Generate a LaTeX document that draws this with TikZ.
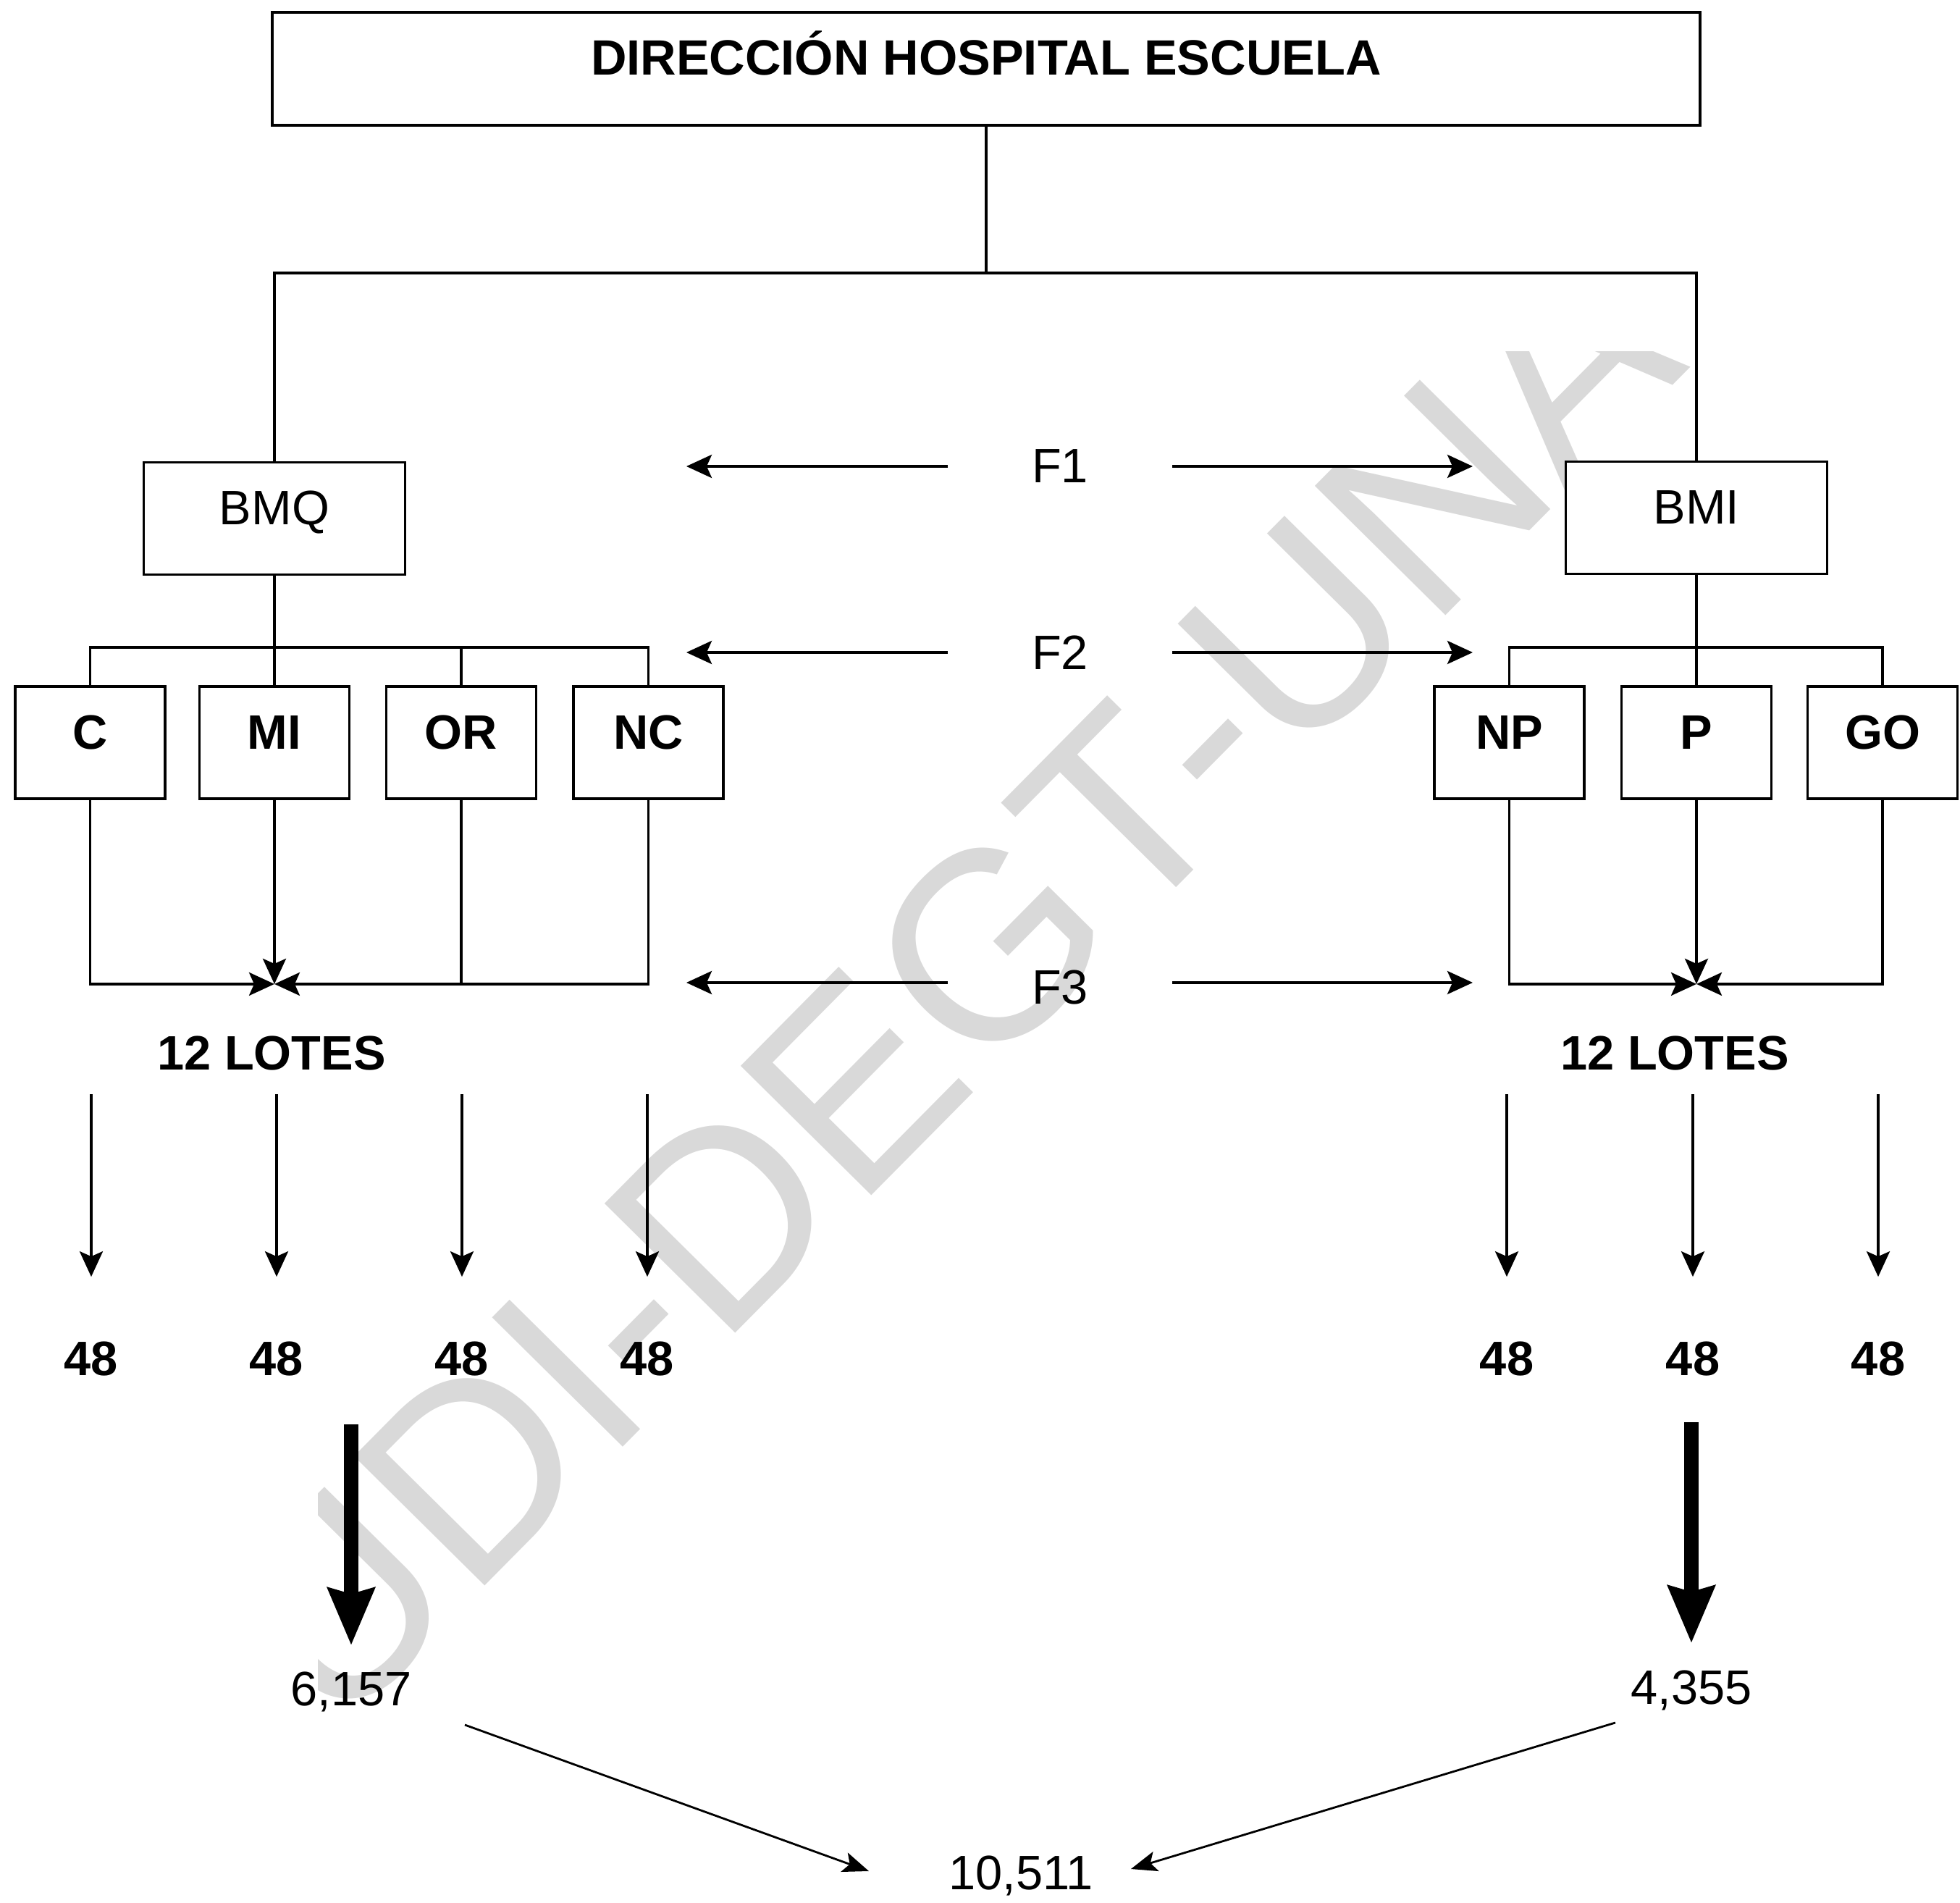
\documentclass[tikz,border=0pt]{standalone}
\usepackage{fontspec}
\setmainfont{Liberation Sans}
\usetikzlibrary{arrows.meta}
\definecolor{markgray}{RGB}{217,217,217}

\begin{document}
\begin{tikzpicture}[
box/.style={draw, fill=white, line width=1.1pt, text height=0.48cm, text depth=0.3cm, inner sep=0pt},
head/.style={box, minimum width=19.72cm, minimum height=1.56cm, font=\fontsize{19.5}{23}\selectfont\bfseries},
unit/.style={box, minimum width=3.61cm, minimum height=1.55cm, font=\fontsize{19}{23}\selectfont},
serv/.style={box, minimum width=2.07cm, minimum height=1.55cm, font=\fontsize{19}{23}\selectfont\bfseries},
lbl/.style={inner sep=1pt, font=\fontsize{19}{23}\selectfont},
lblb/.style={inner sep=1pt, font=\fontsize{19}{23}\selectfont\bfseries},
link/.style={line width=1.1pt},
flow/.style={line width=1.1pt, -{Stealth[length=3.5mm, width=3.2mm, inset=0.7mm]}},
fat/.style={line width=2mm, -{Stealth[length=8mm, width=6.8mm, inset=1mm, line width=0pt]}},
sum/.style={line width=0.8pt, -{Stealth[length=3.6mm, width=2.8mm, inset=0.8mm]}}]
\useasboundingbox (0,0) rectangle (27.07,-26.28);

% watermark
\begin{scope}
\clip (4.39,-4.86) rectangle (27.07,-26.28);
\node[text=markgray, rotate=45.3, inner sep=0pt, font=\fontsize{105}{105}\selectfont] (Mark) at (14.02,-12.70) {UDI-DEGT-UNAH};
\end{scope}

\node[head] (Dir) at (13.62,-0.95) {DIRECCIÓN HOSPITAL ESCUELA};
\node[unit] (BMQ) at (3.79,-7.16) {BMQ};
\node[unit] (BMI) at (23.43,-7.15) {BMI};

\node[serv] (C) at (1.245,-10.255) {C};
\node[serv] (MI) at (3.79,-10.255) {MI};
\node[serv] (OR) at (6.37,-10.255) {OR};
\node[serv] (NC) at (8.955,-10.255) {NC};
\node[serv] (NP) at (20.845,-10.255) {NP};
\node[serv] (P) at (23.43,-10.255) {P};
\node[serv] (GO) at (26.0,-10.255) {GO};

\draw[link] (Dir.south) -- ++(0,-2.02) coordinate (Split);
\draw[link] (BMQ.north) |- (Split) -| (BMI.north);

\draw[link] (BMQ.south) -- (MI.north);
\draw[link] (C.north) -- ++(0,0.52) -| (NC.north);
\draw[link] (OR.north) -- ++(0,0.52);
\draw[link] (BMI.south) -- (P.north);
\draw[link] (NP.north) -- ++(0,0.52) -| (GO.north);

\path (MI.south) ++(0,-2.54) coordinate (JoinL);
\path (P.south) ++(0,-2.54) coordinate (JoinR);
\draw[flow] (MI.south) -- (JoinL);
\draw[flow] (C.south) |- (JoinL);
\draw[flow] (NC.south) |- (JoinL);
\draw[link] (OR.south) -- (OR.south |- JoinL);
\draw[flow] (P.south) -- (JoinR);
\draw[flow] (NP.south) |- (JoinR);
\draw[flow] (GO.south) |- (JoinR);

\node[lbl] (F1) at (14.64,-6.44) {F1};
\node[lbl] (F2) at (14.64,-9.01) {F2};
\node[lbl] (F3) at (14.64,-13.64) {F3};
\draw[flow] ([xshift=-1.55cm]F1.center) -- ([xshift=-5.16cm]F1.center);
\draw[flow] ([xshift=1.55cm]F1.center) -- ([xshift=5.70cm]F1.center);
\draw[flow] ([xshift=-1.55cm]F2.center) -- ([xshift=-5.16cm]F2.center);
\draw[flow] ([xshift=1.55cm]F2.center) -- ([xshift=5.70cm]F2.center);
\draw[flow] ([xshift=-1.55cm,yshift=0.07cm]F3.center) -- ([xshift=-5.16cm,yshift=0.07cm]F3.center);
\draw[flow] ([xshift=1.55cm,yshift=0.07cm]F3.center) -- ([xshift=5.70cm,yshift=0.07cm]F3.center);

\node[lblb] (LotesL) at (3.75,-14.55) {12 LOTES};
\node[lblb] (LotesR) at (23.13,-14.55) {12 LOTES};

\node[lblb] (QC) at (1.26,-18.77) {48};
\node[lblb] (QMI) at (3.82,-18.77) {48};
\node[lblb] (QOR) at (6.38,-18.77) {48};
\node[lblb] (QNC) at (8.94,-18.77) {48};
\node[lblb] (QNP) at (20.81,-18.77) {48};
\node[lblb] (QP) at (23.38,-18.77) {48};
\node[lblb] (QGO) at (25.94,-18.77) {48};
\draw[flow] ([yshift=3.38cm]QC.north) -- ([yshift=0.86cm]QC.north);
\draw[flow] ([yshift=3.38cm]QMI.north) -- ([yshift=0.86cm]QMI.north);
\draw[flow] ([yshift=3.38cm]QOR.north) -- ([yshift=0.86cm]QOR.north);
\draw[flow] ([yshift=3.38cm]QNC.north) -- ([yshift=0.86cm]QNC.north);
\draw[flow] ([yshift=3.38cm]QNP.north) -- ([yshift=0.86cm]QNP.north);
\draw[flow] ([yshift=3.38cm]QP.north) -- ([yshift=0.86cm]QP.north);
\draw[flow] ([yshift=3.38cm]QGO.north) -- ([yshift=0.86cm]QGO.north);

\node[lbl] (Left) at (4.85,-23.36) {6,157};
\node[lbl] (Right) at (23.36,-23.34) {4,355};
\node[lbl] (Total) at (14.10,-25.90) {10,511};
\draw[fat] ([yshift=3.37cm]Left.north) -- ([yshift=0.33cm]Left.north);
\draw[fat] ([yshift=3.38cm]Right.north) -- ([yshift=0.34cm]Right.north);
\draw[sum] ([shift={(1.57,-0.46)}]Left.center) -- ([shift={(-2.10,0.06)}]Total.center);
\draw[sum] ([shift={(-1.05,-0.45)}]Right.center) -- ([shift={(1.52,0.09)}]Total.center);
\end{tikzpicture}
\end{document}
